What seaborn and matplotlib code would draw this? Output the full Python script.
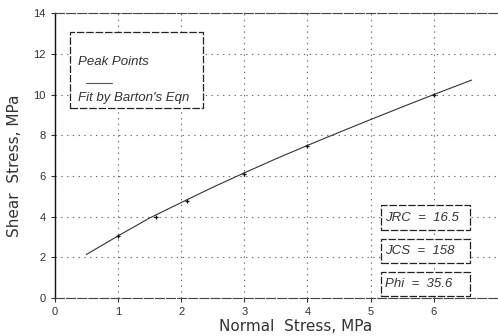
import matplotlib
matplotlib.use("Agg")
import matplotlib.pyplot as plt
import seaborn as sns
import pandas as pd
from matplotlib.patches import Rectangle
from matplotlib.lines import Line2D

# Data
peak_sigma = [1.0, 1.6, 2.1, 3.0, 4.0, 6.0]
peak_tau = [3.05, 4.0, 4.75, 6.1, 7.45, 10.0]
fit_sigma = [0.5, 1.0, 1.5, 2.0, 2.5, 3.0, 3.5, 4.0, 4.5, 5.0, 5.5, 6.0, 6.6]
fit_tau = [2.14, 3.05, 3.93, 4.69, 5.44, 6.15, 6.84, 7.50, 8.14, 8.77, 9.39, 10.0, 10.71]
x_ticks = [0, 1, 2, 3, 4, 5, 6]
y_ticks = [0, 2, 4, 6, 8, 10, 12, 14]
param_labels = ["JRC  =  16.5", "JCS  =  158", "Phi  =  35.6"]

sns.set_style("white")
plt.rcParams["font.family"] = ["Liberation Sans", "DejaVu Sans"]

fig = plt.figure(figsize=(4.98, 3.36), dpi=100)
ax = fig.add_axes([0.110, 0.113, 0.888, 0.848])

fit_df = pd.DataFrame({"sigma": fit_sigma, "tau": fit_tau})
peak_df = pd.DataFrame({"sigma": peak_sigma, "tau": peak_tau})

sns.lineplot(data=fit_df, x="sigma", y="tau", ax=ax, color="#333333", lw=0.8, sort=False)
sns.scatterplot(data=peak_df, x="sigma", y="tau", ax=ax, color="#111111", marker="+", s=12,
                linewidth=0.9, zorder=5)

ax.set_xlim(0, 7)
ax.set_ylim(0, 14)
ax.set_xticks(x_ticks)
ax.set_yticks(y_ticks)
ax.tick_params(axis="both", labelsize=8, colors="#333333", length=3, direction="out")
ax.xaxis.set_ticks_position("bottom")
ax.yaxis.set_ticks_position("left")
ax.grid(True, linestyle=(0, (1.2, 4)), color="#666666", linewidth=0.8)
ax.set_xlabel("Normal  Stress, MPa", fontsize=11, color="#333333",
              family=["DejaVu Sans"])
ax.set_ylabel("Shear  Stress, MPa", fontsize=11, color="#333333",
              family=["DejaVu Sans"])
ax.xaxis.set_label_coords(0.545, -0.075)
ax.yaxis.set_label_coords(-0.075, 0.465)

ax.spines["left"].set_color("#111111"); ax.spines["left"].set_linewidth(1.0)
for s in ["top", "bottom"]:
    ax.spines[s].set_color("#444444"); ax.spines[s].set_linewidth(0.8)
    ax.spines[s].set_linestyle((0, (8, 2)))
ax.spines["right"].set_visible(False)

# Legend box (handles drawn above labels as in the reference)
ax.add_patch(Rectangle((0.24, 9.33), 2.11, 3.73, fill=True, facecolor="white",
                       edgecolor="#222222", lw=0.9, ls=(0, (6, 1.5)), zorder=6))
ax.text(0.36, 11.6, "Peak Points", fontsize=9.5, style="italic", color="#333333",
        va="center", zorder=7)
ax.add_line(Line2D([0.5, 0.9], [10.55, 10.55], color="#555555", lw=0.8, zorder=7))
ax.text(0.36, 9.85, "Fit by Barton's Eqn", fontsize=9.5, style="italic", color="#333333",
        va="center", zorder=7)

# Parameter boxes
box_y = [3.95, 2.3, 0.7]
for lab, y0 in zip(param_labels, box_y):
    ax.add_patch(Rectangle((5.16, y0 - 0.6), 1.42, 1.2, fill=True, facecolor="white",
                           edgecolor="#222222", lw=0.9, ls=(0, (6, 1.5)), zorder=6))
    ax.text(5.22, y0, lab, fontsize=9.5, style="italic", color="#333333",
            va="center", zorder=7)

fig.savefig("out.png", dpi=100)
